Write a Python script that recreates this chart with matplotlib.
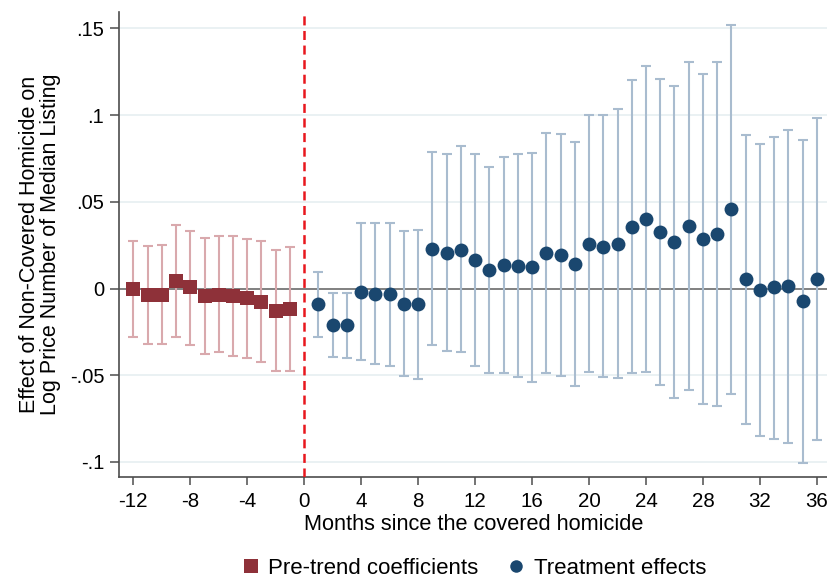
import matplotlib
matplotlib.use('Agg')
import matplotlib.pyplot as plt
from matplotlib.lines import Line2D
import numpy as np

plt.rcParams['font.family'] = ['Liberation Sans', 'DejaVu Sans']
plt.rcParams['lines.scale_dashes'] = False

# ---- data ----
pre_months = list(range(-12, 0))
pre_coef = [0.000, -0.0037, -0.0037, 0.0045, 0.0007, -0.0043, -0.0037, -0.0043, -0.0057, -0.0076, -0.0128, -0.0116]
pre_hi = [0.0276, 0.0243, 0.0251, 0.0368, 0.0333, 0.0291, 0.0303, 0.0301, 0.0286, 0.0272, 0.0224, 0.0241]
pre_lo = [-0.0282, -0.032, -0.032, -0.0282, -0.0324, -0.038, -0.0368, -0.039, -0.040, -0.0424, -0.0478, -0.0476]

post_months = list(range(1, 37))
post_coef = [-0.0089, -0.021, -0.021, -0.0018, -0.0032, -0.0032, -0.0089, -0.0089, 0.0226, 0.0207,
             0.0224, 0.0164, 0.0107, 0.0136, 0.0132, 0.0122, 0.0207, 0.0193, 0.014, 0.0257,
             0.0241, 0.0257, 0.0357, 0.0401, 0.0328, 0.0266, 0.0361, 0.0286, 0.0314, 0.0457,
             0.0053, -0.0008, 0.0007, 0.0015, -0.0072, 0.0055]
post_hi = [0.0097, -0.0024, -0.0024, 0.0376, 0.0376, 0.0376, 0.033, 0.0337, 0.0785, 0.0778,
           0.0822, 0.0776, 0.0703, 0.076, 0.0776, 0.0783, 0.0895, 0.0891, 0.0845, 0.0999,
           0.0999, 0.1035, 0.120, 0.1283, 0.121, 0.1166, 0.1306, 0.1237, 0.1306, 0.152,
           0.0884, 0.0832, 0.0876, 0.0914, 0.0857, 0.0982]
post_lo = [-0.0278, -0.0397, -0.0403, -0.0412, -0.0437, -0.0445, -0.0506, -0.052, -0.0326, -0.0362,
           -0.0368, -0.0447, -0.0489, -0.0489, -0.0509, -0.0538, -0.0486, -0.0503, -0.0562, -0.0482,
           -0.0512, -0.0518, -0.0485, -0.048, -0.0557, -0.0634, -0.0586, -0.0666, -0.0676, -0.0609,
           -0.0783, -0.085, -0.0866, -0.0893, -0.1005, -0.0874]

xticks = list(range(-12, 37, 4))
yticks = [0.15, 0.1, 0.05, 0, -0.05, -0.1]
ytick_labels = ['.15', '.1', '.05', '0', '-.05', '-.1']
grid_vals = [0.15, 0.1, 0.05, -0.05, -0.1]

xlabel = 'Months since the covered homicide'
ylabel = 'Effect of Non-Covered Homicide on\nLog Price Number of Median Listing'
legend_labels = ['Pre-trend coefficients', 'Treatment effects']

# ---- colours ----
pre_col = '#8e3139'
pre_err = '#d9a9ad'
post_col = '#1a476f'
post_err = '#a9bccf'

W, H = 828, 579
fig = plt.figure(figsize=(W / 100, H / 100), dpi=100)
ax_l, ax_r, ax_t, ax_b = 119.5, 828, 12, 476.5
ax = fig.add_axes([ax_l / W, 1 - ax_b / H, (ax_r - ax_l) / W, (ax_b - ax_t) / H])

for g in grid_vals:
    ax.axhline(g, color='#e6eff1', lw=1.2, zorder=0)
ax.axhline(0, color='#808080', lw=1.4, zorder=1)

pc = np.array(pre_coef)
ax.errorbar(pre_months, pc, yerr=[pc - np.array(pre_lo), np.array(pre_hi) - pc], fmt='none',
            ecolor=pre_err, elinewidth=1.5, capsize=3.8, capthick=1.5, zorder=2)
qc = np.array(post_coef)
ax.errorbar(post_months, qc, yerr=[qc - np.array(post_lo), np.array(post_hi) - qc], fmt='none',
            ecolor=post_err, elinewidth=1.5, capsize=3.8, capthick=1.5, zorder=2)

ax.plot(pre_months, pre_coef, 's', color=pre_col, ms=9.4, mew=0, zorder=3)
ax.plot(post_months, post_coef, 'o', color=post_col, ms=10, mew=0, zorder=3)

ax.axvline(0, color='#e8171d', lw=1.8, dashes=(6.5, 4.0), zorder=4)

ax.set_xlim(-12.97, 36.78)
ax.set_ylim(-0.1084, 0.1595)
ax.set_xticks(xticks)
ax.set_xticklabels([str(t) for t in xticks])
ax.set_yticks(yticks)
ax.set_yticklabels(ytick_labels)

for s in ['top', 'right']:
    ax.spines[s].set_visible(False)
for s in ['left', 'bottom']:
    ax.spines[s].set_color('#4d4d4d')
    ax.spines[s].set_linewidth(1.2)

ax.tick_params(axis='x', length=5.5, width=1.1, color='#4d4d4d', labelsize=14.8, pad=5.5)
ax.tick_params(axis='y', length=6.5, width=1.1, color='#4d4d4d', labelsize=14.5, pad=4.5)

ax.set_xlabel(xlabel, fontsize=15.7)
ax.xaxis.label.set_va('center')
ax.xaxis.set_label_coords(0.5, -(524 - ax_b) / (ax_b - ax_t))

ax.set_ylabel(ylabel, fontsize=15.5, linespacing=0.95)
ax.yaxis.label.set_va('center')
ax.yaxis.set_label_coords(-(ax_l - 40) / (ax_r - ax_l), 0.5)

handles = [Line2D([], [], marker='s', color=pre_col, ls='none', ms=10, mew=0),
           Line2D([], [], marker='o', color=post_col, ls='none', ms=9, mew=0)]
fig.legend(handles, legend_labels, loc='center', bbox_to_anchor=(473.5 / W, 1 - 568 / H),
           ncol=2, frameon=False, fontsize=16, handlelength=0.9, handletextpad=0.35,
           columnspacing=1.25, borderpad=0)

fig.savefig('out.png', dpi=100)
